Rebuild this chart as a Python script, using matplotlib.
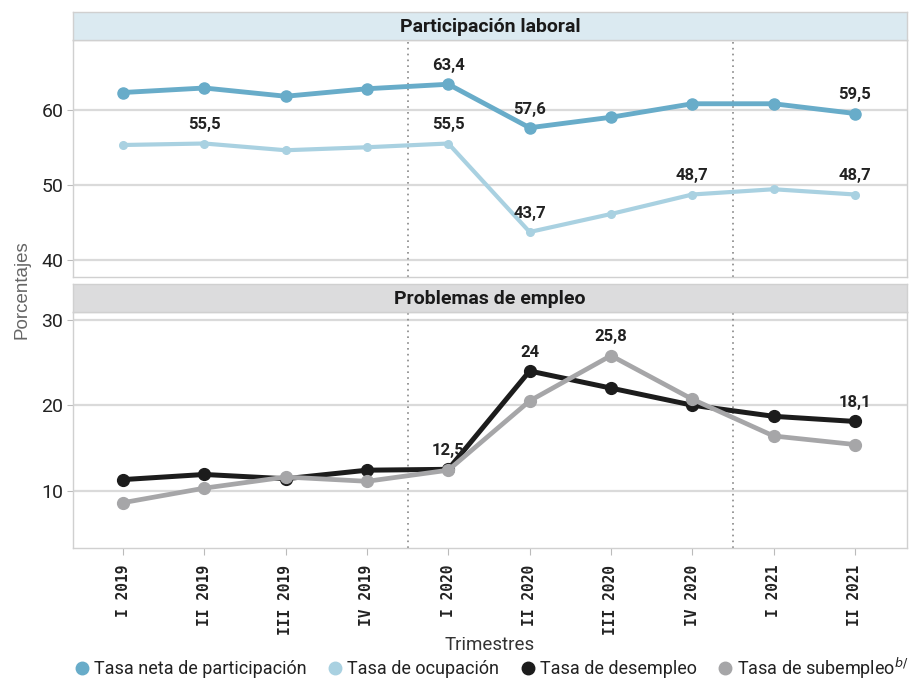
import matplotlib
matplotlib.use("Agg")
import matplotlib.pyplot as plt
from matplotlib.lines import Line2D
import matplotlib.font_manager as fm

quarters = ["I 2019", "II 2019", "III 2019", "IV 2019", "I 2020", "II 2020",
            "III 2020", "IV 2020", "I 2021", "II 2021"]
tasa_neta = [62.3, 62.9, 61.8, 62.8, 63.4, 57.6, 59.0, 60.8, 60.8, 59.5]
tasa_ocup = [55.3, 55.5, 54.6, 55.0, 55.5, 43.7, 46.1, 48.7, 49.4, 48.7]
tasa_desem = [11.3, 11.9, 11.4, 12.4, 12.5, 24.0, 22.0, 20.0, 18.7, 18.1]
tasa_subem = [8.6, 10.3, 11.6, 11.1, 12.4, 20.5, 25.8, 20.7, 16.4, 15.4]

neta_labels = {4: "63,4", 5: "57,6", 9: "59,5"}
ocup_labels = {1: "55,5", 4: "55,5", 5: "43,7", 7: "48,7", 9: "48,7"}
desem_labels = {4: "12,5", 5: "24", 9: "18,1"}
subem_labels = {6: "25,8"}

names = {f.name for f in fm.fontManager.ttflist}
cond = "Liberation Sans Narrow" if "Liberation Sans Narrow" in names else "Roboto"
mono = "DejaVu Sans Mono"

c_neta = "#68acc9"
c_ocup = "#a9d1e1"
c_desem = "#1c1c1c"
c_subem = "#a6a6a8"
grid_c = "#dadada"

W, H = 909, 679
fig = plt.figure(figsize=(W / 100, H / 100), dpi=100)

def fx(px):
    return px / W

def fy(py):
    return 1 - py / H

L, R = 73, 907
ax1 = fig.add_axes([fx(L), fy(277), fx(R - L), fy(40) - fy(277)])
ax2 = fig.add_axes([fx(L), fy(548), fx(R - L), fy(312) - fy(548)])

x = list(range(1, len(quarters) + 1))

def style(ax, ylim, yticks):
    ax.set_xlim(0.385, 10.64)
    ax.set_ylim(*ylim)
    ax.set_yticks(yticks)
    ax.set_yticklabels([str(t) for t in yticks], fontfamily=cond, fontsize=14, color="#222222")
    for t in yticks:
        ax.axhline(t, color=grid_c, lw=1.6, zorder=0)
    for s in ax.spines.values():
        s.set_color("#d0d0d0")
        s.set_linewidth(1.0)
    ax.tick_params(axis="y", length=4, color="#bbbbbb", pad=3)
    ax.tick_params(axis="x", length=5, color="#bbbbbb")
    for v in (4.5, 8.5):
        ax.axvline(v, color="#888888", lw=1.2, ls=(0, (1, 2.5)), zorder=1)

style(ax1, (37.7, 69.3), [40, 50, 60])
style(ax2, (3.3, 30.9), [10, 20, 30])

ax1.set_xticks(x)
ax1.set_xticklabels([])
ax1.tick_params(axis="x", length=0)
ax2.set_xticks(x)
ax2.set_xticklabels(quarters, rotation=90, fontfamily=mono, fontweight="bold",
                    fontsize=10.5, color="#222222")
ax2.tick_params(axis="x", pad=7)

ax1.plot(x, tasa_ocup, color=c_ocup, lw=3.0, marker="o", ms=5.5, zorder=3)
ax1.plot(x, tasa_neta, color=c_neta, lw=3.5, marker="o", ms=8, zorder=4)
ax2.plot(x, tasa_desem, color=c_desem, lw=3.6, marker="o", ms=8.5, zorder=3)
ax2.plot(x, tasa_subem, color=c_subem, lw=3.4, marker="o", ms=8.5, zorder=4)

def annotate(ax, vals, labels):
    for i, txt in labels.items():
        ax.annotate(txt, (x[i], vals[i]), xytext=(0, 8), textcoords="offset points",
                    ha="center", va="bottom", fontfamily=cond, fontweight="bold",
                    fontsize=12, color="#222222", zorder=6)

annotate(ax1, tasa_neta, neta_labels)
annotate(ax1, tasa_ocup, ocup_labels)
annotate(ax2, tasa_desem, desem_labels)
annotate(ax2, tasa_subem, subem_labels)

# facet strips
for (top, bot, col, title) in [(12, 40, "#dbeaf1", "Participación laboral"),
                                (284, 312, "#dcdcdd", "Problemas de empleo")]:
    sax = fig.add_axes([fx(L), fy(bot), fx(R - L), fy(top) - fy(bot)])
    sax.set_facecolor(col)
    sax.set_xticks([])
    sax.set_yticks([])
    for s in sax.spines.values():
        s.set_color("#d0d0d0")
        s.set_linewidth(1.0)
    sax.text(0.5, 0.48, title, ha="center", va="center", fontfamily=cond,
             fontweight="bold", fontsize=14, color="#1a1a1a", transform=sax.transAxes)

fig.text(fx(22), fy(290), "Porcentajes", rotation=90, ha="center", va="center",
         fontfamily="Liberation Sans", fontsize=13.5, color="#666666")
fig.text(fx(490), fy(645), "Trimestres", ha="center", va="center",
         fontfamily=cond, fontsize=13.5, color="#333333")

handles = [
    Line2D([], [], ls="none", marker="o", ms=9, color=c_neta),
    Line2D([], [], ls="none", marker="o", ms=9, color=c_ocup),
    Line2D([], [], ls="none", marker="o", ms=9, color=c_desem),
    Line2D([], [], ls="none", marker="o", ms=9, color=c_subem),
]
labels = ["Tasa neta de participación", "Tasa de ocupación", "Tasa de desempleo",
          "Tasa de subempleo$^{b/}$"]
fig.legend(handles, labels, loc="center", bbox_to_anchor=(fx(490), fy(668)), ncol=4,
           frameon=False, prop={"family": cond, "size": 13}, handletextpad=0.05,
           columnspacing=1.0, handlelength=1.2, labelcolor="#222222",
           borderpad=0.1)

fig.savefig("out.png", dpi=100)
